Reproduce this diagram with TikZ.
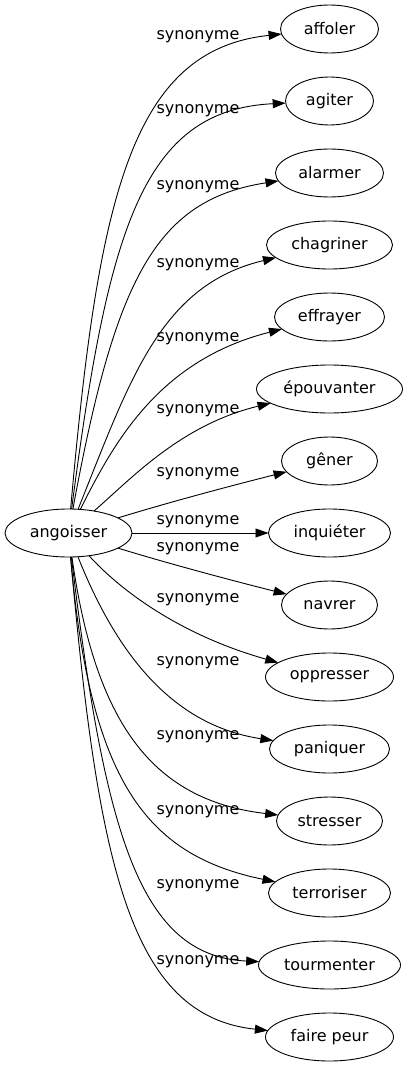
\documentclass[tikz,border=0pt]{standalone}
\usepackage{fontspec}
\setmainfont{DejaVu Sans}
\usepackage{tikz}
\usetikzlibrary{
        arrows.meta,
        positioning,
        shapes.geometric
    }
\tikzset{word/.style={draw,ellipse,inner sep=0pt,outer sep=0pt,minimum height=48pt}}
\tikzset{rel/.style={inner sep=0pt}}

\begin{document}
\begin{tikzpicture}[x=1pt,y=-1pt,>={Triangle[length=13pt,width=9pt]},line width=0.9pt,font=\fontsize{16}{19}\selectfont]
			\useasboundingbox (0,0) rectangle (408,1067);
			\node[word,minimum width=127pt] (angoisser) at (68.5,533) {angoisser};
			\node[word,minimum width=98pt] (affoler) at (329.5,29) {affoler};
			\node[word,minimum width=88pt] (agiter) [below=24pt of affoler] {agiter};
			\node[word,minimum width=108pt] (alarmer) [below=24pt of agiter] {alarmer};
			\node[word,minimum width=126pt] (chagriner) [below=24pt of alarmer] {chagriner};
			\node[word,minimum width=110pt] (effrayer) [below=24pt of chagriner] {effrayer};
			\node[word,minimum width=146pt] (epouvanter) [below=24pt of effrayer] {épouvanter};
			\node[word,minimum width=96pt] (gener) [below=24pt of epouvanter] {gêner};
			\node[word,minimum width=122pt] (inquieter) [below=24pt of gener] {inquiéter};
			\node[word,minimum width=96pt] (navrer) [below=24pt of inquieter] {navrer};
			\node[word,minimum width=128pt] (oppresser) [below=24pt of navrer] {oppresser};
			\node[word,minimum width=120pt] (paniquer) [below=24pt of oppresser] {paniquer};
			\node[word,minimum width=106pt] (stresser) [below=24pt of paniquer] {stresser};
			\node[word,minimum width=122pt] (terroriser) [below=24pt of stresser] {terroriser};
			\node[word,minimum width=142pt] (tourmenter) [below=24pt of terroriser] {tourmenter};
			\node[word,minimum width=128pt] (fairepeur) [below=24pt of tourmenter] {faire peur};
			\draw[->] (angoisser) .. controls (98,200) and (130,50) .. (affoler) node[rel] at (198,37) {synonyme};
			\draw[->] (angoisser) .. controls (108,230) and (142,110) .. (agiter) node[rel] at (198,111) {synonyme};
			\draw[->] (angoisser) .. controls (115,280) and (155,200) .. (alarmer) node[rel] at (198,187) {synonyme};
			\draw[->] (angoisser) .. controls (130,380) and (160,285) .. (chagriner) node[rel] at (198,265) {synonyme};
			\draw[->] (angoisser) .. controls (115,440) and (160,360) .. (effrayer) node[rel] at (198,339) {synonyme};
			\draw[->] (angoisser) .. controls (130,480) and (180,425) .. (epouvanter) node[rel] at (198,411) {synonyme};
			\draw[->] (angoisser) .. controls (170,502) and (230,486) .. (gener) node[rel] at (198,474) {synonyme};
			\draw[->] (angoisser) -- (inquieter) node[rel] at (198,522) {synonyme};
			\draw[->] (angoisser) .. controls (170,564) and (230,580) .. (navrer) node[rel] at (198,549) {synonyme};
			\draw[->] (angoisser) .. controls (120,590) and (180,635) .. (oppresser) node[rel] at (198,600) {synonyme};
			\draw[->] (angoisser) .. controls (115,650) and (170,725) .. (paniquer) node[rel] at (198,663) {synonyme};
			\draw[->] (angoisser) .. controls (95,720) and (150,800) .. (stresser) node[rel] at (198,737) {synonyme};
			\draw[->] (angoisser) .. controls (90,780) and (145,855) .. (terroriser) node[rel] at (198,812) {synonyme};
			\draw[->] (angoisser) .. controls (105,836) and (140,956) .. (tourmenter) node[rel] at (198,886) {synonyme};
			\draw[->] (angoisser) .. controls (98,866) and (130,1016) .. (fairepeur) node[rel] at (198,962) {synonyme};
		\end{tikzpicture}
\end{document}
